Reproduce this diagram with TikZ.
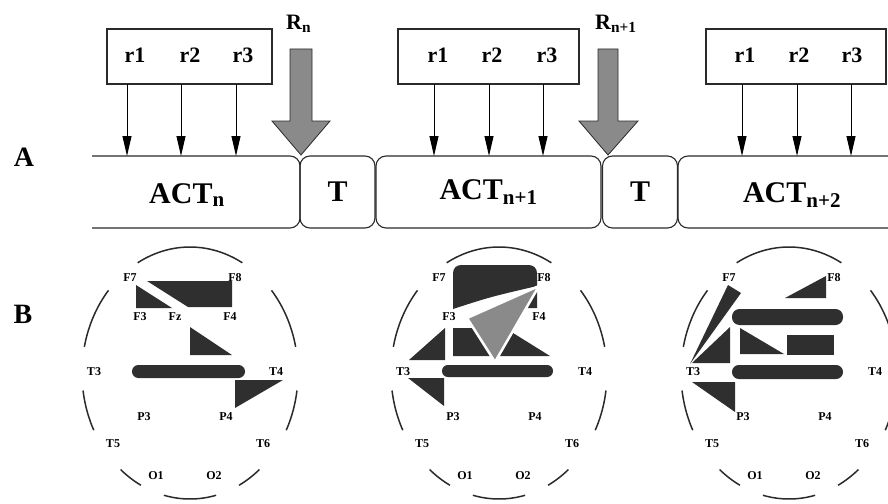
\documentclass[tikz,border=0pt]{standalone}
\usepackage{fontspec}
\setmainfont{Liberation Serif}
\usetikzlibrary{arrows.meta}
\definecolor{dk}{HTML}{2F2F2F}
\definecolor{gr}{HTML}{8A8A8A}
\definecolor{ln}{HTML}{2A2A2A}
\newcommand\headarcs[1]{%
  \foreach \a/\b in {12/41,61/119,139/168,188/207,230/243,256/284,297/310,333/352}
    {\draw[hd] plot[domain=\a:\b,samples=24] ({#1+108*cos(\x)},{373-126*sin(\x)});}%
}
\begin{document}
\begin{tikzpicture}[x=1pt,y=-1pt,
  rowline/.style={draw=ln, line width=1.1pt},
  tbox/.style={draw=ln, line width=1.1pt, rounded corners=10pt, minimum width=75pt,
    minimum height=72pt, inner sep=0, font=\bfseries\fontsize{30}{30}\selectfont},
  rbox/.style={draw=ln, line width=1.1pt, minimum height=55pt, inner sep=0},
  rlab/.style={font=\bfseries\fontsize{22}{22}\selectfont, inner sep=0},
  actlab/.style={font=\bfseries\fontsize{30}{30}\selectfont, inner sep=0},
  biglab/.style={font=\bfseries\fontsize{28}{28}\selectfont, inner sep=0},
  rrlab/.style={font=\bfseries\fontsize{22}{22}\selectfont, inner sep=0, anchor=west},
  rarr/.style={draw=black, line width=1pt, -{Triangle[length=20pt,width=9pt]}},
  bigarr/.style={fill=gr, draw=ln, line width=0.8pt},
  hd/.style={draw=ln, line width=1.5pt},
  el/.style={font=\bfseries\fontsize{12}{12}\selectfont, inner sep=0}]
\useasboundingbox (0,0) rectangle (888,503);

% labels A and B
\node[biglab] (labA) at (24,157) {A};
\node[biglab] (labB) at (23,314) {B};

% ACT row
\draw[rowline, rounded corners=10pt] (92,156) -- (300,156) -- (300,228) -- (92,228);
\node[actlab] (actn) at (187,195) {ACT\textsubscript{n}};
\node[tbox] (t1) at (337.5,192) {T};
\node[tbox, minimum width=225pt] (act1) at (488.5,192) {ACT\textsubscript{n+1}};
\node[tbox] (t2) at (640,192) {T};
\draw[rowline, rounded corners=10pt] (890,156) -- (678,156) -- (678,228) -- (890,228);
\node[actlab] (actn2) at (792,195) {ACT\textsubscript{n+2}};

% r boxes
\node[rbox, minimum width=165pt] (rb1) at (189.5,56.5) {};
\node[rlab] (r11) at (135,55) {r1};
\node[rlab] (r12) at (190,55) {r2};
\node[rlab] (r13) at (243,55) {r3};
\node[rbox, minimum width=181pt] (rb2) at (488.5,56.5) {};
\node[rlab] (r21) at (438,55) {r1};
\node[rlab] (r22) at (492,55) {r2};
\node[rlab] (r23) at (547,55) {r3};
\node[rbox, minimum width=180pt] (rb3) at (796,56.5) {};
\node[rlab] (r31) at (745,55) {r1};
\node[rlab] (r32) at (799,55) {r2};
\node[rlab] (r33) at (852,55) {r3};

\foreach \i/\xx in {11/127,12/181,13/236,21/434,22/489,23/543,31/742,32/797,33/851}{
  \coordinate (s\i) at (\xx,84);
  \coordinate (e\i) at (\xx,156);
  \draw[rarr] (s\i) -- (e\i);
}

% big gray arrows
\filldraw[bigarr] (290,49) -- (312,49) -- (312,121) -- (330,121) -- (301,155) -- (272,121) -- (290,121) -- cycle;
\filldraw[bigarr] (598,49) -- (618,49) -- (618,121) -- (638,121) -- (608,155) -- (579,121) -- (598,121) -- cycle;
\node[rrlab] (Rn) at (286,24) {R\textsubscript{n}};
\node[rrlab] (Rn1) at (595,24) {R\textsubscript{n+1}};

% heads: arcs
\headarcs{190}
\headarcs{499}
\headarcs{789}

% head 1 labels
\foreach \n/\dx/\dy in {F7/-60/-95,F8/45/-95,F3/-50/-56,Fz/-15/-56,F4/40/-56,T3/-96/-1,T4/86/-1,P3/-46/44,P4/36/44,T5/-77/71,T6/73/71,O1/-34/103,O2/24/103}
  {\node[el] (h1\n) at ({190+\dx},{373+\dy}) {\n};}
% head 2 labels
\foreach \n/\dx/\dy in {F7/-60/-95,F8/45/-95,F3/-50/-56,F4/40/-56,T3/-96/-1,T4/86/-1,P3/-46/44,P4/36/44,T5/-77/71,T6/73/71,O1/-34/103,O2/24/103}
  {\node[el] (h2\n) at ({499+\dx},{373+\dy}) {\n};}
% head 3 labels
\foreach \n/\dx/\dy in {F7/-60/-95,F8/45/-95,T3/-96/-1,T4/86/-1,P3/-46/44,P4/36/44,T5/-77/71,T6/73/71,O1/-34/103,O2/24/103}
  {\node[el] (h3\n) at ({789+\dx},{373+\dy}) {\n};}

% head 1 shapes
\fill[dk] (147,281) -- (232,281) -- (232,307) -- (188,307) -- cycle;
\fill[dk] (136,285) -- (136,308) -- (172,308) -- cycle;
\fill[dk] (190,327) -- (190,355) -- (232,355) -- cycle;
\fill[dk, rounded corners=6.4pt] (132,365) rectangle (245,378);
\fill[dk] (235,380) -- (283,380) -- (235,408) -- cycle;

% head 2 shapes
\fill[dk] (453,309) .. controls (490,297) .. (537,286) {[rounded corners=8pt] -- (537,265) -- (453,265)} -- cycle;
\fill[dk] (520,300) -- (537,291) -- (537,308) -- (520,308) -- cycle;
\fill[dk] (453,328) -- (505,328) -- (550,356) -- (453,356) -- cycle;
\fill[dk] (445,328) -- (445,360) -- (409,360) -- cycle;
\fill[dk] (408,378) -- (444,378) -- (444,406) -- cycle;
\fill[dk, rounded corners=5.9pt] (442,365) rectangle (553,377);
\filldraw[fill=gr, draw=white, line width=2.5pt, line join=round] (467,318) -- (539,286) -- (495,362) -- cycle;

% head 3 shapes
\fill[dk] (690,364) -- (728,285) -- (741,293) -- cycle;
\fill[dk] (785,298) -- (826,276) -- (826,298) -- cycle;
\fill[dk, rounded corners=7.5pt] (732,309) rectangle (843,325);
\fill[dk] (692,363) -- (730,327) -- (730,363) -- cycle;
\fill[dk] (740,328) -- (740,354) -- (784,354) -- cycle;
\fill[dk] (787,335) rectangle (834,355);
\fill[dk, rounded corners=6.9pt] (732,365) rectangle (843,379);
\fill[dk] (692,382) -- (735,382) -- (735,412) -- cycle;
\end{tikzpicture}
\end{document}
